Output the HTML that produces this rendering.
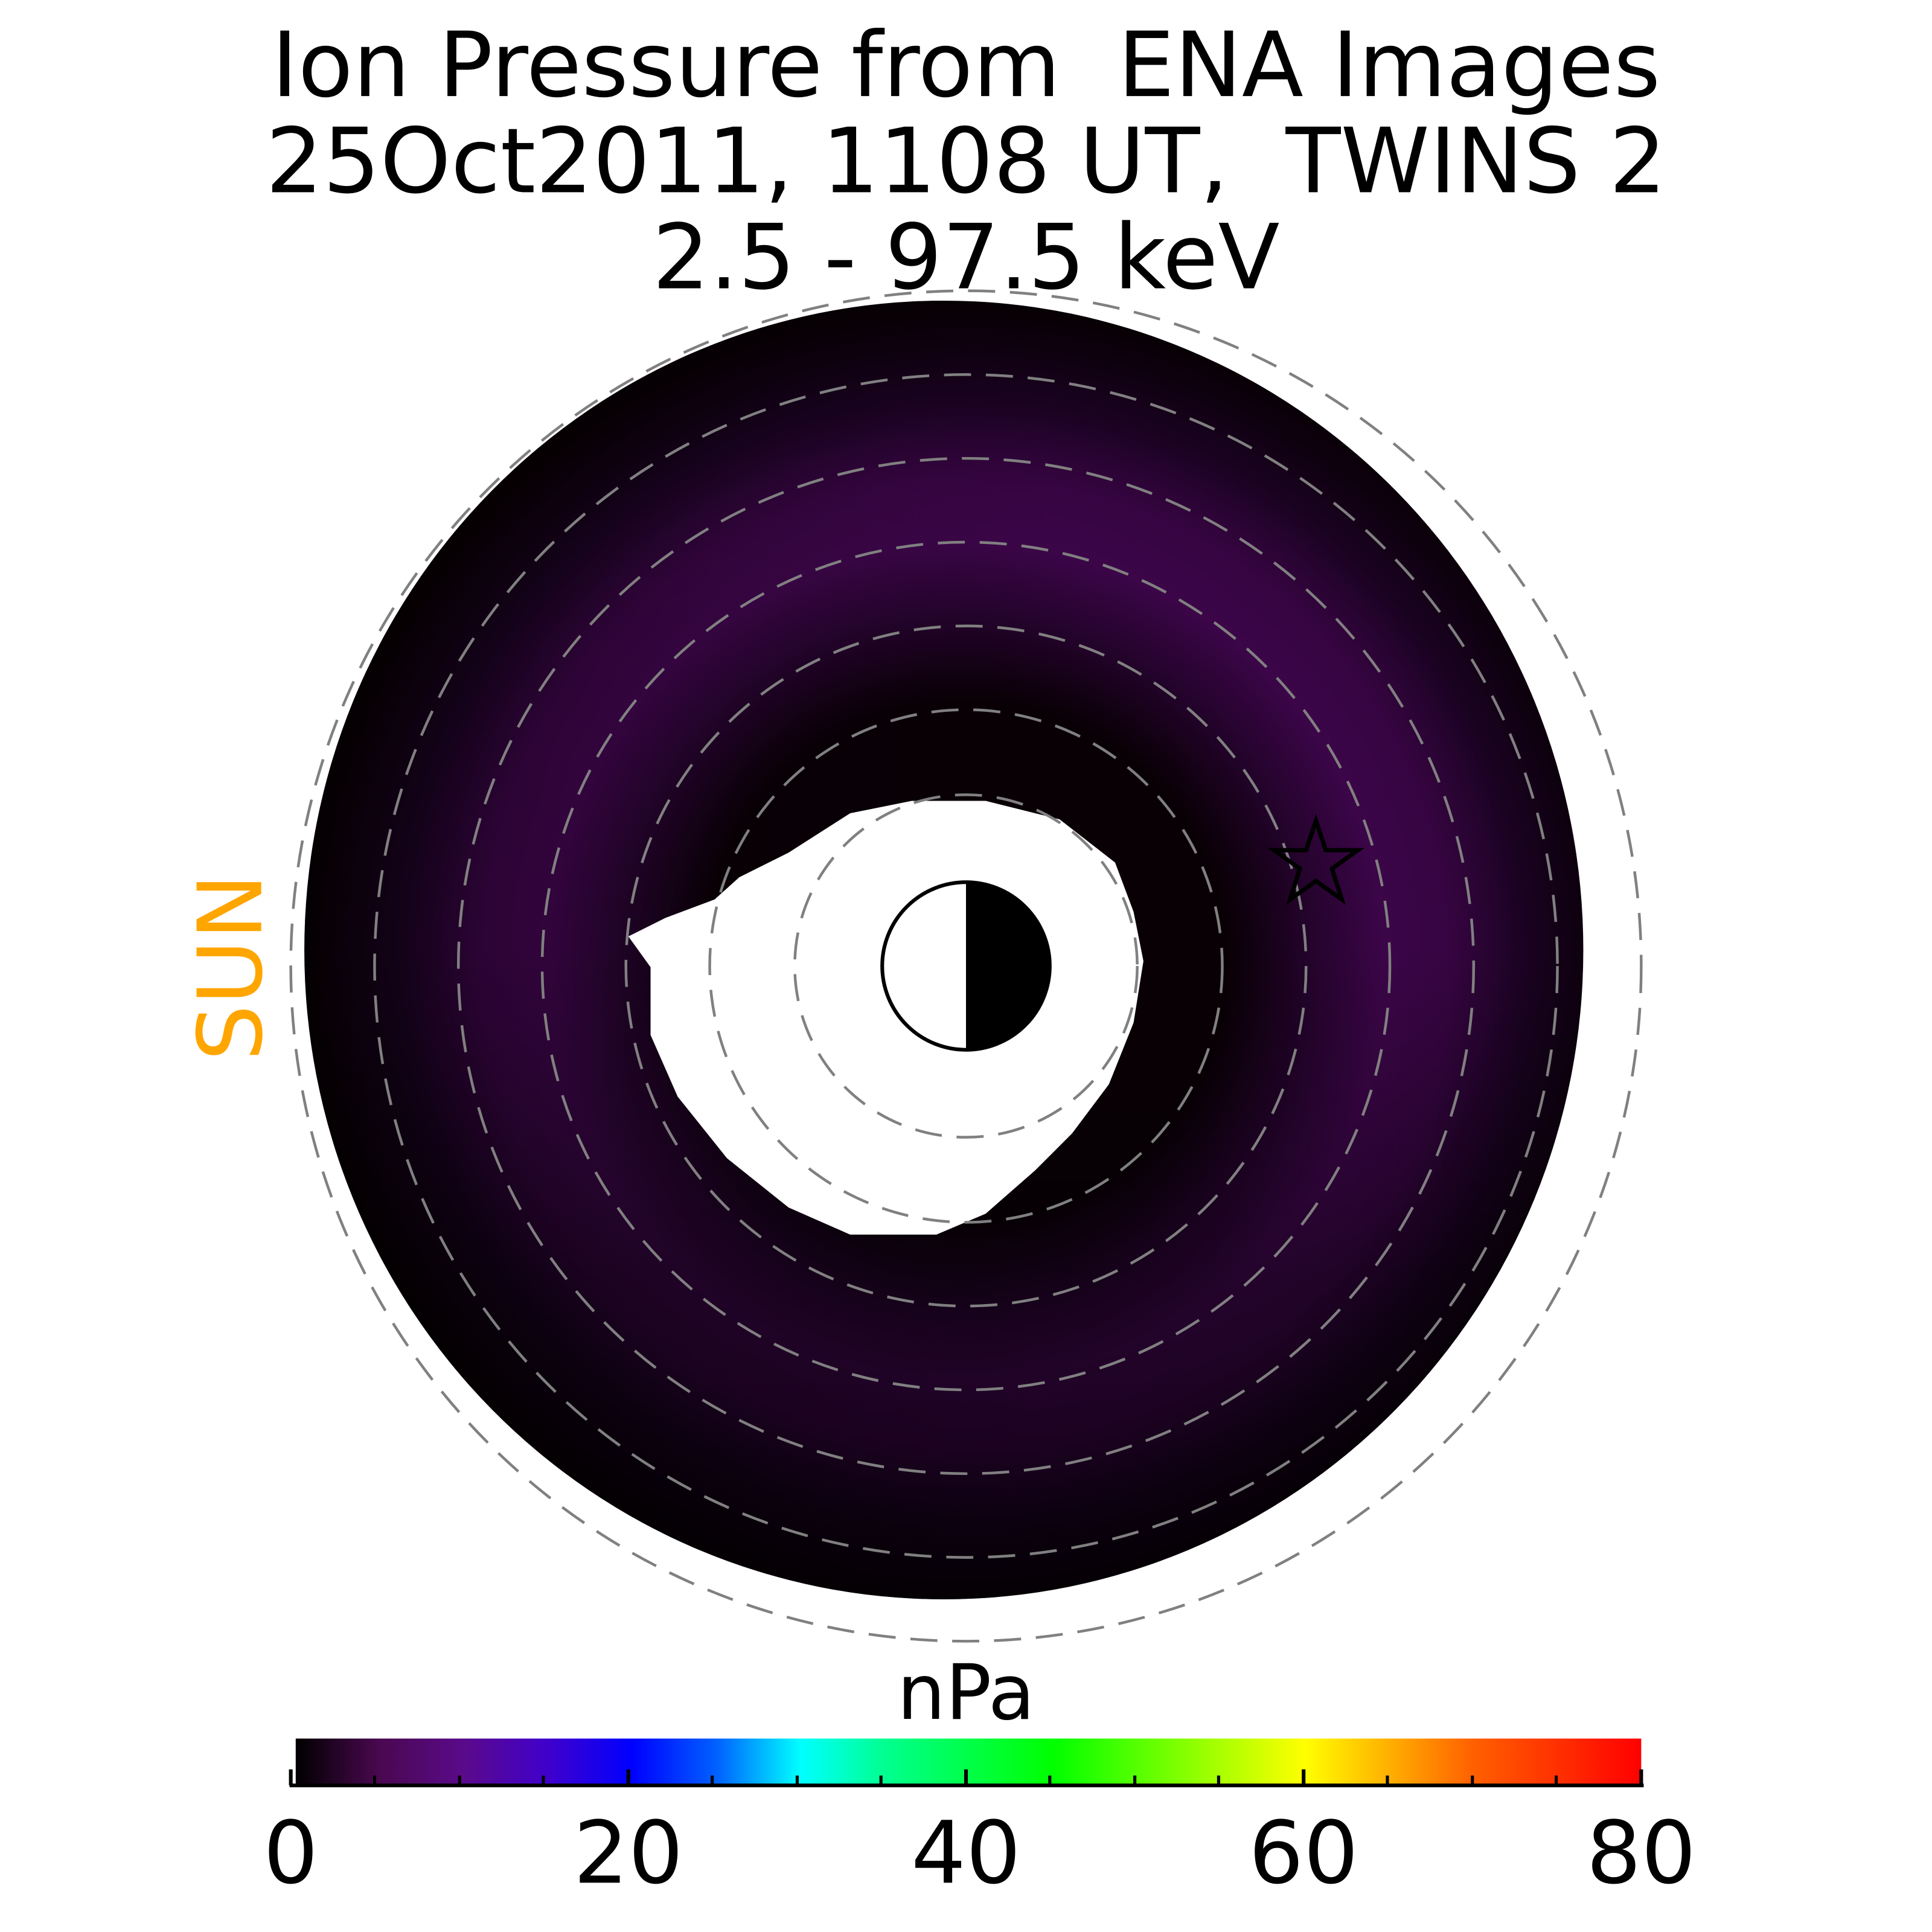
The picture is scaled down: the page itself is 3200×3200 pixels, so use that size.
<!DOCTYPE html>
<html><head><meta charset="utf-8"><style>html,body{margin:0;padding:0;background:#fff}svg{display:block}text{white-space:pre}</style></head>
<body>
<svg width="3200" height="3200" viewBox="0 0 1568 1568" xmlns="http://www.w3.org/2000/svg" font-family="'DejaVu Sans','Liberation Sans',sans-serif">
<defs>
<radialGradient id="rg" gradientUnits="userSpaceOnUse" cx="784" cy="780" r="530">
<stop offset="0.40" stop-color="#0a0006"/>
<stop offset="0.52" stop-color="#26032e"/>
<stop offset="0.64" stop-color="#420650"/>
<stop offset="0.74" stop-color="#3c0548"/>
<stop offset="0.86" stop-color="#1c0224"/>
<stop offset="1" stop-color="#080004"/>
</radialGradient>
<linearGradient id="dk" x1="0" y1="0" x2="0" y2="1">
<stop offset="0" stop-color="#000" stop-opacity="0.1"/>
<stop offset="0.5" stop-color="#000" stop-opacity="0.1"/>
<stop offset="0.75" stop-color="#000" stop-opacity="0.45"/>
<stop offset="1" stop-color="#000" stop-opacity="0.6"/>
</linearGradient>
<linearGradient id="dl" x1="0" y1="0" x2="1" y2="0">
<stop offset="0" stop-color="#000" stop-opacity="0.25"/>
<stop offset="0.6" stop-color="#000" stop-opacity="0"/>
<stop offset="1" stop-color="#000" stop-opacity="0"/>
</linearGradient>
<linearGradient id="cb" x1="0" y1="0" x2="1" y2="0">
<stop offset="0" stop-color="#000"/>
<stop offset="0.0625" stop-color="#4a0850"/>
<stop offset="0.125" stop-color="#5a0a8a"/>
<stop offset="0.1875" stop-color="#4000cc"/>
<stop offset="0.25" stop-color="#0000ff"/>
<stop offset="0.3125" stop-color="#0060ff"/>
<stop offset="0.375" stop-color="#00ffff"/>
<stop offset="0.4375" stop-color="#00ff90"/>
<stop offset="0.5625" stop-color="#00ff00"/>
<stop offset="0.75" stop-color="#ffff00"/>
<stop offset="0.875" stop-color="#ff6000"/>
<stop offset="1" stop-color="#ff0000"/>
</linearGradient>
</defs>
<text x="784" y="78" font-size="73" text-anchor="middle">Ion Pressure from  ENA Images</text>
<text x="784" y="156" font-size="73" text-anchor="middle">25Oct2011, 1108 UT,  TWINS 2</text>
<text x="784" y="234" font-size="73" text-anchor="middle">2.5 - 97.5 keV</text>
<text transform="translate(212,785) rotate(-90)" font-size="72" fill="#ffa500" text-anchor="middle">SUN</text>
<ellipse cx="766" cy="771" rx="519" ry="527" fill="url(#rg)"/>
<ellipse cx="766" cy="771" rx="519" ry="527" fill="url(#dk)"/>
<ellipse cx="766" cy="771" rx="519" ry="527" fill="url(#dl)"/>
<polygon fill="#fff" points="528,785 510,760 540,745 580,730 600,712 640,692 690,660 740,650 800,650 860,665 905,700 920,740 928,780 920,830 900,880 870,920 840,950 800,985 760,1002 690,1002 640,980 590,940 550,890 528,840"/>
<g fill="none" stroke="#808080" stroke-width="2.2" stroke-dasharray="22,12">
<circle cx="784" cy="784" r="548"/>
<circle cx="784" cy="784" r="480"/>
<circle cx="784" cy="784" r="412"/>
<circle cx="784" cy="784" r="344"/>
<circle cx="784" cy="784" r="276"/>
<circle cx="784" cy="784" r="208"/>
<circle cx="784" cy="784" r="139"/>
</g>
<circle cx="784" cy="784" r="68" fill="#fff" stroke="#000" stroke-width="3"/>
<path d="M784,716 A68,68 0 0 1 784,852 Z" fill="#000"/>
<polygon fill="none" stroke="#000" stroke-width="3.5" points="1068,666 1076,690 1102,690 1081,705 1089,730 1068,715 1047,730 1055,705 1034,690 1060,690"/>
<text x="784" y="1395" font-size="62" text-anchor="middle">nPa</text>
<rect x="240" y="1411" width="1092" height="38" fill="url(#cb)"/>
<line x1="235" y1="1449" x2="1334" y2="1449" stroke="#000" stroke-width="3"/>
<g stroke="#000" stroke-width="3">
<line x1="236" y1="1449" x2="236" y2="1436"/>
<line x1="510" y1="1449" x2="510" y2="1436"/>
<line x1="784" y1="1449" x2="784" y2="1436"/>
<line x1="1058" y1="1449" x2="1058" y2="1436"/>
<line x1="1332" y1="1449" x2="1332" y2="1436"/>
</g>
<g stroke="#000" stroke-width="2.5">
<line x1="304" y1="1449" x2="304" y2="1441"/><line x1="373" y1="1449" x2="373" y2="1441"/><line x1="441" y1="1449" x2="441" y2="1441"/>
<line x1="578" y1="1449" x2="578" y2="1441"/><line x1="647" y1="1449" x2="647" y2="1441"/><line x1="715" y1="1449" x2="715" y2="1441"/>
<line x1="852" y1="1449" x2="852" y2="1441"/><line x1="921" y1="1449" x2="921" y2="1441"/><line x1="989" y1="1449" x2="989" y2="1441"/>
<line x1="1126" y1="1449" x2="1126" y2="1441"/><line x1="1195" y1="1449" x2="1195" y2="1441"/><line x1="1263" y1="1449" x2="1263" y2="1441"/>
</g>
<g font-size="70" text-anchor="middle">
<text x="236" y="1528">0</text>
<text x="510" y="1528">20</text>
<text x="784" y="1528">40</text>
<text x="1058" y="1528">60</text>
<text x="1332" y="1528">80</text>
</g>
</svg>
</body></html>
